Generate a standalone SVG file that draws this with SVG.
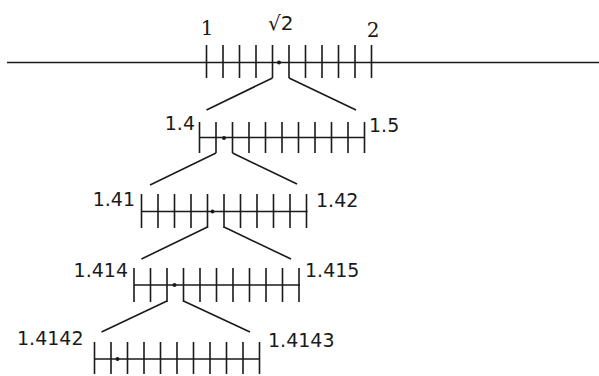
<svg xmlns="http://www.w3.org/2000/svg" width="599" height="376" viewBox="0 0 599 376">
<style>
line,path{stroke:#1a1a1a;stroke-width:1.6;fill:none}
.d{fill:#1a1a1a}
.t{font-family:"DejaVu Sans",Verdana,sans-serif;font-size:19px;fill:#1a1a1a}
.s{font-family:"DejaVu Serif",Georgia,serif;font-size:20px;fill:#1a1a1a}
.r{font-family:"DejaVu Sans",Verdana,sans-serif;font-size:20px;fill:#1a1a1a}
</style>
<rect width="599" height="376" fill="#fff"/>
<g id="level0">
<line x1="7" y1="62.5" x2="599" y2="62.5"/>
<path d="M206.5,45v33M223,45v33M239.5,45v33M256,45v33M272.5,45v33M289,45v33M305.5,45v33M322,45v33M338.5,45v33M355,45v33M371.5,45v33"/>
<circle class="d" cx="279" cy="62.5" r="2"/>
<text class="s" x="207" y="35" text-anchor="middle">1</text>
<text class="r" x="268" y="30">√2</text>
<text class="s" x="373" y="36.5" text-anchor="middle">2</text>
</g>
<g id="level1">
<line x1="199.5" y1="137.5" x2="364.5" y2="137.5"/>
<path d="M199.5,122v31M216,122v31M232.5,122v31M249,122v31M265.5,122v31M282,122v31M298.5,122v31M315,122v31M331.5,122v31M348,122v31M364.5,122v31"/>
<circle class="d" cx="224" cy="138" r="2"/>
<text class="t" x="195" y="130" text-anchor="end">1.4</text>
<text class="t" x="369" y="132">1.5</text>
</g>
<g id="level2">
<line x1="141.5" y1="211.5" x2="307.5" y2="211.5"/>
<path d="M141.5,194v34M158,194v34M174.5,194v34M191,194v34M207.5,194v34M224,194v34M240.5,194v34M257,194v34M273.5,194v34M290,194v34M306.5,194v34"/>
<circle class="d" cx="212.5" cy="211.5" r="2"/>
<text class="t" x="135" y="206" text-anchor="end">1.41</text>
<text class="t" x="316" y="206.5">1.42</text>
</g>
<g id="level3">
<line x1="134" y1="285" x2="300" y2="285"/>
<path d="M134,268v34M150.5,268v34M167,268v34M183.5,268v34M200,268v34M216.5,268v34M233,268v34M249.5,268v34M266,268v34M282.5,268v34M299,268v34"/>
<circle class="d" cx="174.5" cy="285" r="2"/>
<text class="t" x="128" y="277" text-anchor="end">1.414</text>
<text class="t" x="305" y="277">1.415</text>
</g>
<g id="level4">
<line x1="94.5" y1="359" x2="259.5" y2="359"/>
<path d="M94.5,342v32M111,342v32M127.5,342v32M144,342v32M160.5,342v32M177,342v32M193.5,342v32M210,342v32M226.5,342v32M243,342v32M259.5,342v32"/>
<circle class="d" cx="117.5" cy="359" r="2"/>
<text class="t" x="83.5" y="345" text-anchor="end">1.4142</text>
<text class="t" x="268" y="347">1.4143</text>
</g>
<g id="connectors">
<path d="M272.5,78L206.5,110"/>
<path d="M289,78L356,110"/>
<path d="M216,153L150,185"/>
<path d="M232.5,153L297,184"/>
<path d="M207.5,227L141.5,259"/>
<path d="M224,227L291,259"/>
<path d="M167,301L101.5,332"/>
<path d="M183.5,301L250,332"/>
</g>
</svg>
